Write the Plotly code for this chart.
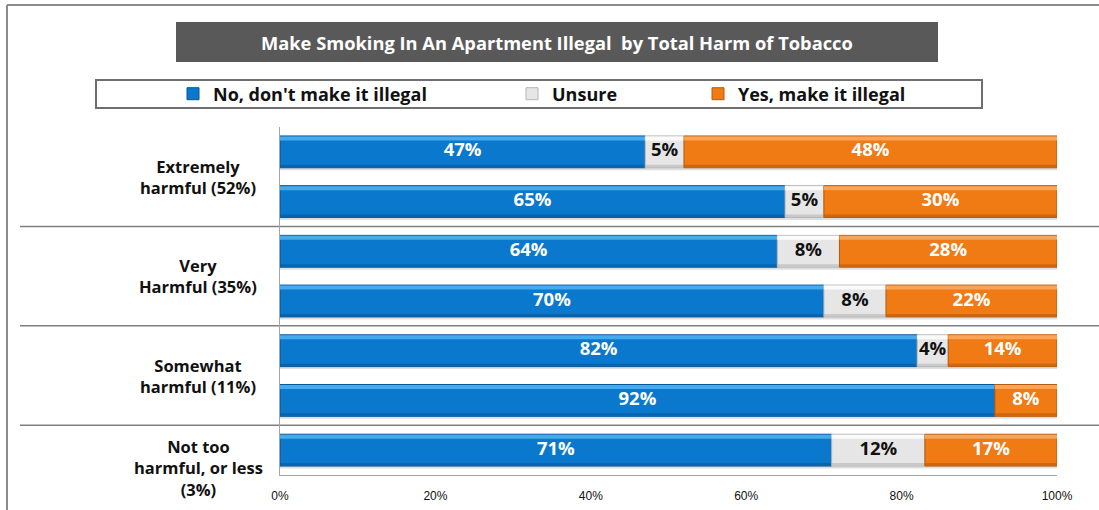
import plotly.graph_objects as go

# ---- data -------------------------------------------------------------
group_labels = [
    "Extremely<br>harmful (52%)",
    "Very<br>Harmful (35%)",
    "Somewhat<br>harmful (11%)",
    "Not too<br>harmful, or less<br>(3%)",
]
rows_per_group = [2, 2, 2, 1]

no_vals = [47, 65, 64, 70, 82, 92, 71]
unsure_vals = [5, 5, 8, 8, 4, 0, 12]
yes_vals = [48, 30, 28, 22, 14, 8, 17]

series_names = ["No, don't make it illegal", "Unsure", "Yes, make it illegal"]
tick_vals = [0, 20, 40, 60, 80, 100]
tick_text = ["0%", "20%", "40%", "60%", "80%", "100%"]
title_text = "Make Smoking In An Apartment Illegal&nbsp; by Total Harm of Tobacco"

# ---- styling ----------------------------------------------------------
W, H = 1099, 510
L, R, T, B = 280, 1057, 127, 475
FONT = "Open Sans"

body_colors = ["#0A78CC", "#E6E6E6", "#F07A14"]
edge_colors = ["#07579A", "#B5B5B5", "#B85A0A"]
top_colors = ["#45AAEE", "#FBFBFB", "#F9A458"]
text_colors = ["white", "#111111", "white"]


def px_x(px):
    return (px - L) / (R - L)


def px_y(py):
    return (B - py) / (B - T)


rows = list(range(len(no_vals)))
series = [no_vals, unsure_vals, yes_vals]

fig = go.Figure()

# soft shadow under every bar
totals = [a + b + c for a, b, c in zip(no_vals, unsure_vals, yes_vals)]
fig.add_trace(go.Bar(
    orientation="h", y=rows, x=totals, base=[0] * len(rows),
    width=0.07, offset=0.30, marker=dict(color="rgba(0,0,0,0.13)", line=dict(width=0)),
    showlegend=False, hoverinfo="skip",
))

bases = [0] * len(rows)
label_x, label_y, label_t, label_c = [], [], [], []
for i, vals in enumerate(series):
    xs = [v if v > 0 else None for v in vals]
    legend_id = "legend" if i == 0 else f"legend{i + 1}"
    fig.add_trace(go.Bar(
        orientation="h", y=rows, x=xs, base=bases,
        width=0.64, offset=-0.32, name=series_names[i], legend=legend_id,
        marker=dict(color=body_colors[i], line=dict(color=edge_colors[i], width=1)),
        hoverinfo="x+name",
    ))
    # bevel highlight along the top edge
    fig.add_trace(go.Bar(
        orientation="h", y=rows, x=xs, base=bases,
        width=0.08, offset=-0.31, marker=dict(color=top_colors[i], line=dict(width=0)),
        showlegend=False, hoverinfo="skip",
    ))
    # darker band along the bottom edge
    fig.add_trace(go.Bar(
        orientation="h", y=rows, x=xs, base=bases,
        width=0.05, offset=0.26, marker=dict(color=edge_colors[i], line=dict(width=0), opacity=0.6),
        showlegend=False, hoverinfo="skip",
    ))
    for r, (b, v) in enumerate(zip(bases, vals)):
        if v > 0:
            label_x.append(b + v / 2)
            label_y.append(r)
            label_t.append(f"{v}%")
            label_c.append(text_colors[i])
    bases = [b + v for b, v in zip(bases, vals)]

fig.add_trace(go.Scatter(
    x=label_x, y=label_y, text=label_t, mode="text",
    textfont=dict(family=FONT, size=18.5, color=label_c, weight="bold"),
    showlegend=False, hoverinfo="skip",
))

# ---- group labels & separators ---------------------------------------
annotations = []
shapes = []
start = 0
for gi, (lab, n) in enumerate(zip(group_labels, rows_per_group)):
    center = start + (n - 1) / 2
    annotations.append(dict(
        xref="paper", yref="y", x=px_x(198), y=center, text=lab,
        showarrow=False, xanchor="center", yanchor="middle", align="center",
        font=dict(family=FONT, size=16.5, color="#111111", weight="bold"),
        yshift=-18 if n == 1 else 0,
    ))
    start += n
    if gi < len(group_labels) - 1:
        shapes.append(dict(
            type="line", xref="paper", yref="y",
            x0=px_x(20), x1=px_x(1099), y0=start - 0.5, y1=start - 0.5,
            line=dict(color="#808080", width=1.5), layer="below",
        ))

# title bar
shapes.append(dict(
    type="rect", xref="paper", yref="paper",
    x0=px_x(176), x1=px_x(938), y0=px_y(62), y1=px_y(22),
    fillcolor="#595959", line=dict(width=0), layer="below",
))
annotations.append(dict(
    xref="paper", yref="paper", x=px_x(557), y=px_y(43), text=title_text,
    showarrow=False, xanchor="center", yanchor="middle",
    font=dict(family=FONT, size=18.3, color="white", weight="bold"),
))

# legend frame
shapes.append(dict(
    type="rect", xref="paper", yref="paper",
    x0=px_x(96), x1=px_x(982), y0=px_y(108), y1=px_y(80),
    fillcolor="white", line=dict(color="#6F6F6F", width=2), layer="below",
))

# outer chart frame (top and left)
shapes.append(dict(
    type="line", xref="paper", yref="paper",
    x0=px_x(7), x1=px_x(1099), y0=px_y(5), y1=px_y(5),
    line=dict(color="#8C8C8C", width=2), layer="below",
))
shapes.append(dict(
    type="line", xref="paper", yref="paper",
    x0=px_x(7), x1=px_x(7), y0=px_y(5), y1=px_y(510),
    line=dict(color="#8C8C8C", width=2), layer="below",
))


def legend_at(px):
    return dict(
        x=px_x(px), y=px_y(94), xanchor="left", yanchor="middle",
        orientation="h", bgcolor="rgba(0,0,0,0)", borderwidth=0,
        itemwidth=30, itemclick=False, itemdoubleclick=False,
        font=dict(family=FONT, size=18, color="#111111", weight="bold"),
    )


fig.update_layout(
    width=W, height=H,
    margin=dict(l=L, r=W - R, t=T, b=H - B, pad=0, autoexpand=False),
    paper_bgcolor="white", plot_bgcolor="white",
    barmode="overlay",
    xaxis=dict(
        range=[0, 100], tickvals=tick_vals, ticktext=tick_text,
        showgrid=False, zeroline=False, showline=True, linecolor="#A6A6A6", linewidth=1,
        ticks="", ticklabelstandoff=10, automargin=False,
        tickfont=dict(family="Liberation Sans", size=12, color="#111111"),
        fixedrange=True,
    ),
    yaxis=dict(
        range=[len(rows) - 0.5, -0.5], showticklabels=False, showgrid=False,
        zeroline=False, showline=True, linecolor="#A6A6A6", linewidth=1,
        ticks="", fixedrange=True, automargin=False,
    ),
    legend=legend_at(173),
    legend2=legend_at(512),
    legend3=legend_at(698),
    shapes=shapes,
    annotations=annotations,
    showlegend=True,
)

fig.write_html("out.html")
